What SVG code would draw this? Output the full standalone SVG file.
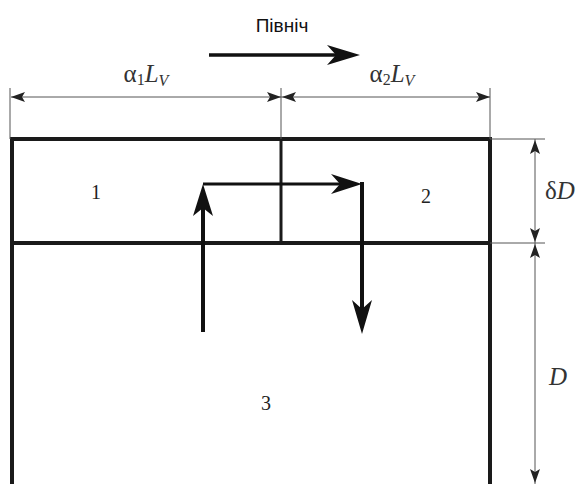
<svg xmlns="http://www.w3.org/2000/svg" width="584" height="484" viewBox="0 0 584 484">
<style>
.thick{stroke:#1a1a1a;stroke-width:4;fill:none}
.flow{stroke:#111;stroke-width:4;fill:none}
.dim{stroke:#555;stroke-width:1;fill:none}
.head{fill:#111}
.dhead{fill:#222}
.num{font-family:"Liberation Serif",serif;font-size:20px;fill:#222}
.lab{font-family:"Liberation Serif",serif;font-size:25px;fill:#333}
.it{font-style:italic}
</style>
<rect width="584" height="484" fill="#fff"/>
<g id="walls">
<path class="thick" d="M12 484 V139 H490 V484"/>
<path class="thick" d="M12 243 H490"/>
<path class="thick" d="M281 139 V243" style="stroke-width:3"/>
</g>
<g id="cell1"><text class="num" x="96" y="199" text-anchor="middle">1</text></g>
<g id="cell2"><text class="num" x="426" y="203" text-anchor="middle">2</text></g>
<g id="cell3"><text class="num" x="266" y="410" text-anchor="middle">3</text></g>
<g id="north">
<text x="282" y="32" text-anchor="middle" font-family="Liberation Sans, Arial, sans-serif" font-size="19" fill="#111">Північ</text>
<path d="M209 55 H340" stroke="#111" stroke-width="3.5"/>
<path class="head" d="M360 55 L327 45 L336 55 L327 65 Z"/>
</g>
<g id="connectors">
<path class="flow" d="M203 332 V200"/>
<path class="head" d="M203 184 L193 216 L203 208 L213 216 Z"/>
<path d="M203 184 H345" stroke="#111" stroke-width="3"/>
<path class="head" d="M362 184 L331 174 L340 184 L331 194 Z"/>
<path class="flow" d="M362 182 V318"/>
<path class="head" d="M362 334 L352 300 L362 309 L372 300 Z"/>
</g>
<g id="dimensions">
<path class="dim" d="M10 88 V139 M281 88 V139 M490 88 V139"/>
<path class="dim" d="M11 97 H281 M281 97 H490"/>
<path class="dhead" d="M11 97 L25 92 L22 97 L25 102 Z"/>
<path class="dhead" d="M281 97 L267 92 L270 97 L267 102 Z"/>
<path class="dhead" d="M282 97 L296 92 L293 97 L296 102 Z"/>
<path class="dhead" d="M490 97 L476 92 L479 97 L476 102 Z"/>
<path class="dim" d="M490 139 H545 M490 243 H545"/>
<path class="dim" d="M535 139 V484"/>
<path class="dhead" d="M535 140 L530 154 L535 151 L540 154 Z"/>
<path class="dhead" d="M535 242 L530 228 L535 231 L540 228 Z"/>
<path class="dhead" d="M535 244 L530 258 L535 255 L540 258 Z"/>
<path class="dhead" d="M535 483 L530 469 L535 472 L540 469 Z"/>
<text class="lab" x="146" y="82" text-anchor="middle">α<tspan font-size="16" dy="3">1</tspan><tspan class="it" dy="-3">L</tspan><tspan class="it" font-size="16" dy="4">V</tspan></text>
<text class="lab" x="392" y="82" text-anchor="middle">α<tspan font-size="16" dy="3">2</tspan><tspan class="it" dy="-3">L</tspan><tspan class="it" font-size="16" dy="4">V</tspan></text>
<text class="lab" x="560" y="199" text-anchor="middle">δ<tspan class="it">D</tspan></text>
<text class="lab it" x="558" y="385" text-anchor="middle">D</text>
</g>
</svg>
